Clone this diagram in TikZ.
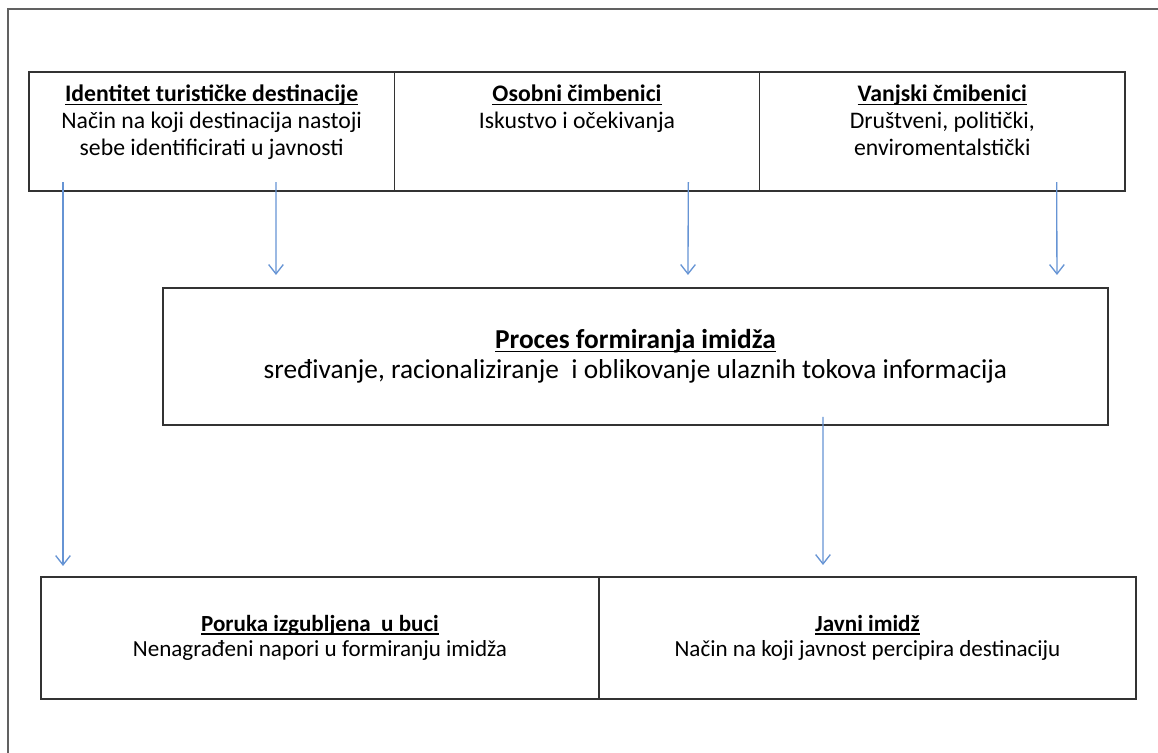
\documentclass[tikz,border=0pt]{standalone}
\usepackage{fontspec}
\setmainfont{Carlito}
\usepackage{tikz}
\usetikzlibrary{arrows.meta, positioning}
\definecolor{framegray}{rgb}{0.38,0.38,0.38}
\definecolor{boxline}{rgb}{0.2,0.2,0.2}
\definecolor{arrowblue}{rgb}{0.40,0.58,0.83}
\newsavebox{\titlebox}
\newcommand{\boxtitle}[1]{\sbox{\titlebox}{\textbf{#1}}\rlap{\usebox{\titlebox}}\rule[-2.6pt]{\wd\titlebox}{1.1pt}}
\newcommand{\toptext}[2]{\parbox[c][73pt][t]{262pt}{\centering\strut\boxtitle{#1}\\#2}}

\begin{document}
\begin{tikzpicture}[x=1pt, y=1pt,
    box/.style={rectangle, draw=boxline, line width=1.2pt, outer sep=0pt, inner sep=0pt, align=center},
    topbox/.style={box, minimum width=274pt, minimum height=89.25pt, inner ysep=8pt, font=\fontsize{17.8}{20.3}\selectfont},
    midbox/.style={box, minimum width=708.75pt, minimum height=102.75pt, font=\fontsize{20.5}{22.5}\selectfont},
    lowbox/.style={box, minimum height=91.5pt, font=\fontsize{17.3}{19}\selectfont},
    arrow/.style={-{Straight Barb[length=7pt, width=11pt]}, draw=arrowblue, line width=1pt}
]
\useasboundingbox (0,0) rectangle (868.5,564.75);
\draw[framegray, line width=1.5pt] (6,0) -- (6,558) -- (868.5,558);

\node[topbox] (ident) at (158.75,466.1) {\toptext{Identitet turističke destinacije}{Način na koji destinacija nastoji\\sebe identificirati u javnosti}};
\node[topbox, right=0pt of ident] (osob) {\toptext{Osobni čimbenici}{Iskustvo i očekivanja}};
\node[topbox, right=0pt of osob] (vanj) {\toptext{Vanjski čmibenici}{Društveni, politički,\\enviromentalstički}};

\node[midbox] (proc) at (476.6,297.4) {\boxtitle{Proces formiranja imidža}\\sređivanje, racionaliziranje\ \ i oblikovanje ulaznih tokova informacija};

\node[lowbox, minimum width=418.5pt] (lost) at (240,86.25) {\boxtitle{Poruka izgubljena\ \ u buci}\\Nenagrađeni napori u formiranju imidža};
\node[lowbox, minimum width=402.75pt, right=0pt of lost] (javni) {\boxtitle{Javni imidž}\\Način na koji javnost percipira destinaciju};

\draw[arrow] ([xshift=25.5pt, yshift=6.75pt]ident.south west) -- ([xshift=16.5pt, yshift=8.25pt]lost.north west);
\draw[arrow] ([xshift=185.25pt, yshift=6.75pt]ident.south west) -- ([xshift=84.75pt, yshift=9.75pt]proc.north west);
\draw[arrow] ([xshift=220.5pt, yshift=6.75pt]osob.south west) -- ([xshift=393.75pt, yshift=9.75pt]proc.north west);
\draw[arrow] ([xshift=222.75pt, yshift=6.75pt]vanj.south west) -- ([xshift=670.5pt, yshift=9.75pt]proc.north west);
\draw[arrow] ([xshift=495pt, yshift=6pt]proc.south west) -- ([xshift=168pt, yshift=9pt]javni.north west);
\end{tikzpicture}
\end{document}
